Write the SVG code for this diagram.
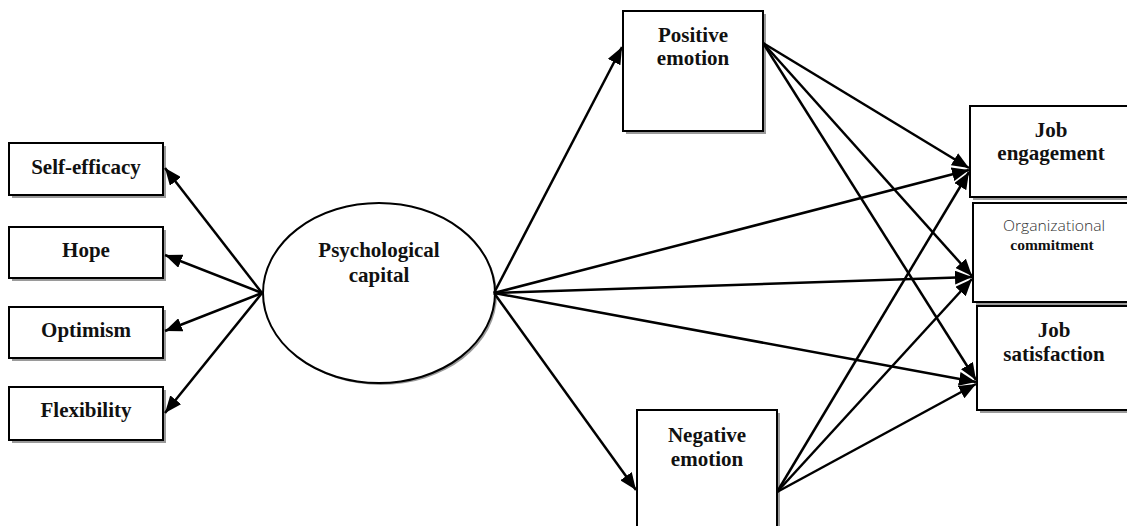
<svg xmlns="http://www.w3.org/2000/svg" width="1127" height="526" viewBox="0 0 1127 526">
<style>
.box{fill:#fff;stroke:#000;stroke-width:2}
.sh{fill:#9a9a9a}
.t{font-family:"Liberation Serif","Times New Roman",serif;font-weight:bold;font-size:21px;fill:#111;text-anchor:middle}
.c{stroke:#000;stroke-width:2.5;fill:none;marker-end:url(#ah)}
</style>
<defs>
<marker id="ah" markerUnits="userSpaceOnUse" markerWidth="18" markerHeight="14" viewBox="0 0 18 14" refX="17" refY="7" orient="auto">
<path d="M0,0 L17,7 L0,14 z" fill="#000"/>
</marker>
</defs>
<rect width="1127" height="526" fill="#fff"/>
<g id="self-efficacy"><rect class="sh" x="12" y="146" width="154" height="52"/><rect class="box" x="9" y="143" width="154" height="52"/><text class="t" x="86" y="174">Self-efficacy</text></g>
<g id="hope"><rect class="sh" x="12" y="230" width="154" height="51"/><rect class="box" x="9" y="227" width="154" height="51"/><text class="t" x="86" y="257">Hope</text></g>
<g id="optimism"><rect class="sh" x="12" y="310" width="154" height="51"/><rect class="box" x="9" y="307" width="154" height="51"/><text class="t" x="86" y="337">Optimism</text></g>
<g id="flexibility"><rect class="sh" x="12" y="390" width="154" height="53"/><rect class="box" x="9" y="387" width="154" height="53"/><text class="t" x="86" y="417">Flexibility</text></g>
<g id="psychological-capital"><ellipse class="sh" cx="381" cy="295" rx="116" ry="90"/><ellipse class="box" cx="379" cy="293" rx="116" ry="90"/><text class="t" x="379" y="257">Psychological</text><text class="t" x="379" y="282">capital</text></g>
<g id="positive-emotion"><rect class="sh" x="626" y="14" width="140" height="120"/><rect class="box" x="623" y="11" width="140" height="120"/><text class="t" x="693" y="42">Positive</text><text class="t" x="693" y="65">emotion</text></g>
<g id="negative-emotion"><rect class="sh" x="640" y="413" width="140" height="130"/><rect class="box" x="637" y="410" width="140" height="130"/><text class="t" x="707" y="442">Negative</text><text class="t" x="707" y="466">emotion</text></g>
<g id="job-engagement"><rect class="sh" x="973" y="109" width="170" height="91"/><rect class="box" x="970" y="106" width="170" height="91"/><text class="t" x="1051" y="137">Job</text><text class="t" x="1051" y="160">engagement</text></g>
<g id="organizational-commitment"><rect class="sh" x="976" y="206" width="170" height="99"/><rect class="box" x="973" y="203" width="170" height="99"/><text x="1054" y="231" text-anchor="middle" font-family="'Open Sans','Liberation Sans',sans-serif" font-weight="300" font-size="15" fill="#333" textLength="102" lengthAdjust="spacingAndGlyphs">Organizational</text><text x="1052" y="250" text-anchor="middle" font-family="'Liberation Serif','Times New Roman',serif" font-weight="bold" font-size="15.5" fill="#111">commitment</text></g>
<g id="job-satisfaction"><rect class="sh" x="980" y="309" width="170" height="104"/><rect class="box" x="977" y="306" width="170" height="104"/><text class="t" x="1054" y="337">Job</text><text class="t" x="1054" y="361">satisfaction</text></g>
<g id="connectors">
<line class="c" x1="262" y1="293" x2="165" y2="168"/>
<line class="c" x1="262" y1="293" x2="165" y2="255"/>
<line class="c" x1="262" y1="293" x2="165" y2="331"/>
<line class="c" x1="262" y1="293" x2="165" y2="413"/>
<line class="c" x1="494" y1="293" x2="622" y2="47"/>
<line class="c" x1="494" y1="293" x2="636" y2="490"/>
<line class="c" x1="763" y1="43" x2="969" y2="168"/>
<line class="c" x1="763" y1="43" x2="972" y2="276"/>
<line class="c" x1="763" y1="43" x2="976" y2="380"/>
<line class="c" x1="494" y1="293" x2="969" y2="170"/>
<line class="c" x1="494" y1="293" x2="972" y2="277"/>
<line class="c" x1="494" y1="293" x2="976" y2="382"/>
<line class="c" x1="777" y1="492" x2="969" y2="172"/>
<line class="c" x1="777" y1="492" x2="972" y2="279"/>
<line class="c" x1="777" y1="492" x2="976" y2="384"/>
</g>
</svg>
